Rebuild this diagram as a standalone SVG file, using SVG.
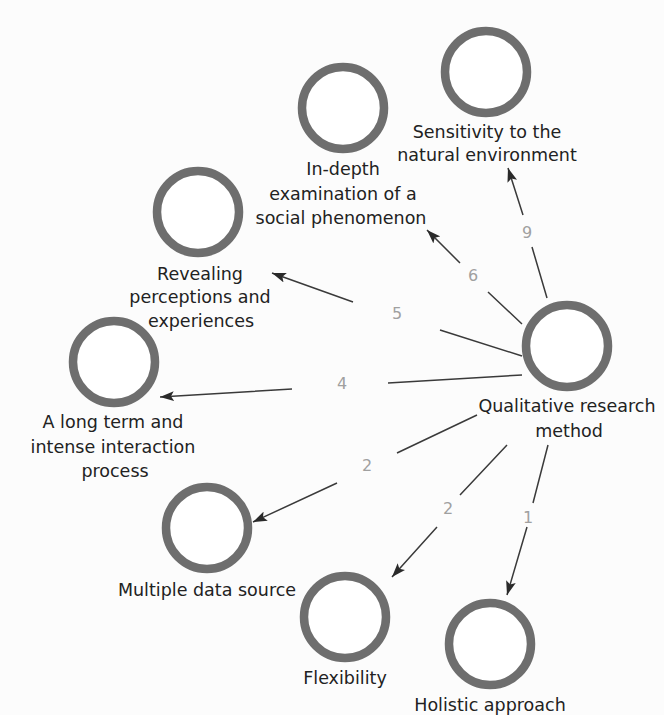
<svg xmlns="http://www.w3.org/2000/svg" width="664" height="715" viewBox="0 0 664 715">
<defs>
<style>
.ring{fill:#ffffff;stroke:#6e6e6e;stroke-width:8.5}
.lbl{font-family:"DejaVu Sans","Liberation Sans",sans-serif;font-size:17.5px;fill:#222;text-anchor:middle}
.num{font-family:"DejaVu Sans","Liberation Sans",sans-serif;font-size:16px;fill:#a0a0a0;text-anchor:middle}
.edge{fill:none;stroke:#3a3a3a;stroke-width:1.5;marker-end:url(#ah)}
</style>
<marker id="ah" viewBox="0 0 14 10" refX="14" refY="5" markerWidth="14" markerHeight="10" markerUnits="userSpaceOnUse" orient="auto">
<path d="M0,0 L14,5 L0,10 L3,5 Z" fill="#2a2a2a"/>
</marker>
</defs>
<rect width="664" height="715" fill="#fcfcfc"/>
<g id="connectors">
<path class="edge" d="M547,298 L532,247 M523,215 L508,168"/>
<text class="num" x="527" y="238">9</text>
<path class="edge" d="M522,324 L488,292 M460,263 L427,230"/>
<text class="num" x="473" y="281">6</text>
<path class="edge" d="M522,356 L440,330 M353,302 L272,273"/>
<text class="num" x="397" y="319">5</text>
<path class="edge" d="M522,375 L388,383 M292,389 L160,397"/>
<text class="num" x="342" y="389">4</text>
<path class="edge" d="M477,415 L397,453 M337,483 L253,522"/>
<text class="num" x="367" y="471">2</text>
<path class="edge" d="M507,445 L460,495 M437,527 L392,577"/>
<text class="num" x="448" y="514">2</text>
<path class="edge" d="M548,445 L533,503 M527,527 L507,595"/>
<text class="num" x="528" y="523">1</text>
</g>
<g id="node-sensitivity">
<circle class="ring" cx="486" cy="72" r="41"/>
<text class="lbl" x="487" y="138">Sensitivity to the</text>
<text class="lbl" x="487" y="161">natural environment</text>
</g>
<g id="node-indepth">
<circle class="ring" cx="343" cy="108" r="41"/>
<text class="lbl" x="343" y="175">In-depth</text>
<text class="lbl" x="343" y="200">examination of a</text>
<text class="lbl" x="341" y="224">social phenomenon</text>
</g>
<g id="node-revealing">
<circle class="ring" cx="198" cy="212" r="41"/>
<text class="lbl" x="200" y="280">Revealing</text>
<text class="lbl" x="200" y="303">perceptions and</text>
<text class="lbl" x="201" y="327">experiences</text>
</g>
<g id="node-longterm">
<circle class="ring" cx="114" cy="362" r="41"/>
<text class="lbl" x="113" y="428">A long term and</text>
<text class="lbl" x="113" y="453">intense interaction</text>
<text class="lbl" x="115" y="477">process</text>
</g>
<g id="node-multiple">
<circle class="ring" cx="207" cy="528" r="41"/>
<text class="lbl" x="207" y="596">Multiple data source</text>
</g>
<g id="node-flexibility">
<circle class="ring" cx="345" cy="617" r="41"/>
<text class="lbl" x="345" y="684">Flexibility</text>
</g>
<g id="node-holistic">
<circle class="ring" cx="490" cy="644" r="41"/>
<text class="lbl" x="490" y="711">Holistic approach</text>
</g>
<g id="node-qualitative">
<circle class="ring" cx="567" cy="346" r="41"/>
<text class="lbl" x="567" y="412">Qualitative research</text>
<text class="lbl" x="569" y="437">method</text>
</g>
</svg>
